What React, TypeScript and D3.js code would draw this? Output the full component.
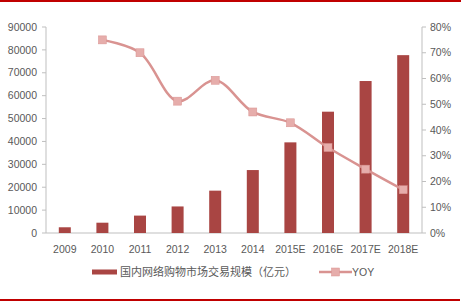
import React from "react";
import * as d3 from "d3";

const categories = ["2009", "2010", "2011", "2012", "2013", "2014", "2015E", "2016E", "2017E", "2018E"];
const marketSize = [2500, 4500, 7600, 11600, 18500, 27500, 39600, 53000, 66400, 77700];
const yoy: (number | null)[] = [null, 0.75, 0.70, 0.512, 0.593, 0.47, 0.428, 0.332, 0.248, 0.168];
const leftTicks = [0, 10000, 20000, 30000, 40000, 50000, 60000, 70000, 80000, 90000];
const rightTicks = [0, 0.1, 0.2, 0.3, 0.4, 0.5, 0.6, 0.7, 0.8];
const barLabel = "国内网络购物市场交易规模（亿元）";
const lineLabel = "YOY";

const W = 461, H = 307;
const left = 46, right = 422, top = 27, bottom = 233;
const barColor = "#a94543";
const lineColor = "#d99391";
const markerColor = "#e6adab";
const axisColor = "#bfbfbf";
const textColor = "#595959";
const font = "'Liberation Sans', Arial, sans-serif";

export default function App() {
  const x = d3.scaleBand().domain(categories).range([left, right]).paddingInner(0).paddingOuter(0);
  const yL = d3.scaleLinear().domain([0, 90000]).range([bottom, top]);
  const yR = d3.scaleLinear().domain([0, 0.8]).range([bottom, top]);
  const bw = 12;
  const pts = categories
    .map((c, i) => ({ c, v: yoy[i] }))
    .filter((d) => d.v != null) as { c: string; v: number }[];
  const line = d3
    .line<{ c: string; v: number }>()
    .x((d) => (x(d.c) as number) + x.bandwidth() / 2)
    .y((d) => yR(d.v))
    .curve(d3.curveCatmullRom.alpha(0.5));

  return (
    <svg width={W} height={H} style={{ position: "absolute", left: 0, top: 0, background: "#fff" }} fontFamily={font}>
      <rect x={0} y={0} width={W} height={H} fill="#fff" />
      <line x1={0} x2={W} y1={1} y2={1} stroke="#c00000" strokeWidth={2} />
      <line x1={0} x2={460} y1={300} y2={300} stroke="#c00000" strokeWidth={2} />
      {/* axes */}
      <line x1={left} x2={left} y1={top} y2={bottom} stroke={axisColor} />
      <line x1={right} x2={right} y1={top} y2={bottom} stroke={axisColor} />
      <line x1={left} x2={right} y1={bottom} y2={bottom} stroke={axisColor} />
      {leftTicks.map((t) => (
        <g key={"l" + t}>
          <line x1={left - 4} x2={left} y1={yL(t)} y2={yL(t)} stroke={axisColor} />
          <text x={37} y={yL(t)} dy="0.35em" textAnchor="end" fontSize={10.5} fill={textColor}>{t}</text>
        </g>
      ))}
      {rightTicks.map((t) => (
        <g key={"r" + t}>
          <line x1={right} x2={right + 4} y1={yR(t)} y2={yR(t)} stroke={axisColor} />
          <text x={430} y={yR(t)} dy="0.35em" textAnchor="start" fontSize={10.5} fill={textColor}>{Math.round(t * 100) + "%"}</text>
        </g>
      ))}
      {categories.map((c) => (
        <text key={"x" + c} x={(x(c) as number) + x.bandwidth() / 2} y={249} dy="0.35em" textAnchor="middle" fontSize={10.5} fill={textColor}>{c}</text>
      ))}
      {categories.map((c, i) => (
        <rect key={"b" + c} x={(x(c) as number) + x.bandwidth() / 2 - bw / 2} y={yL(marketSize[i])} width={bw} height={bottom - yL(marketSize[i])} fill={barColor} />
      ))}
      <path d={line(pts) || ""} fill="none" stroke={lineColor} strokeWidth={2.5} />
      {pts.map((d) => (
        <rect key={"m" + d.c} x={(x(d.c) as number) + x.bandwidth() / 2 - 4} y={yR(d.v) - 4} width={8} height={8} fill={markerColor} stroke={lineColor} strokeWidth={0.5} />
      ))}
      {/* legend */}
      <rect x={92} y={269.5} width={25} height={5} fill={barColor} />
      <text x={120} y={272} dy="0.35em" fontSize={11} fill={textColor} fontFamily="'Noto Sans CJK SC', sans-serif">{barLabel}</text>
      <line x1={319} x2={352} y1={272} y2={272} stroke={lineColor} strokeWidth={2.5} />
      <rect x={331.5} y={268} width={8} height={8} fill={markerColor} stroke={lineColor} strokeWidth={0.5} />
      <text x={352} y={272} dy="0.35em" fontSize={10.5} fill={textColor}>{lineLabel}</text>
    </svg>
  );
}
